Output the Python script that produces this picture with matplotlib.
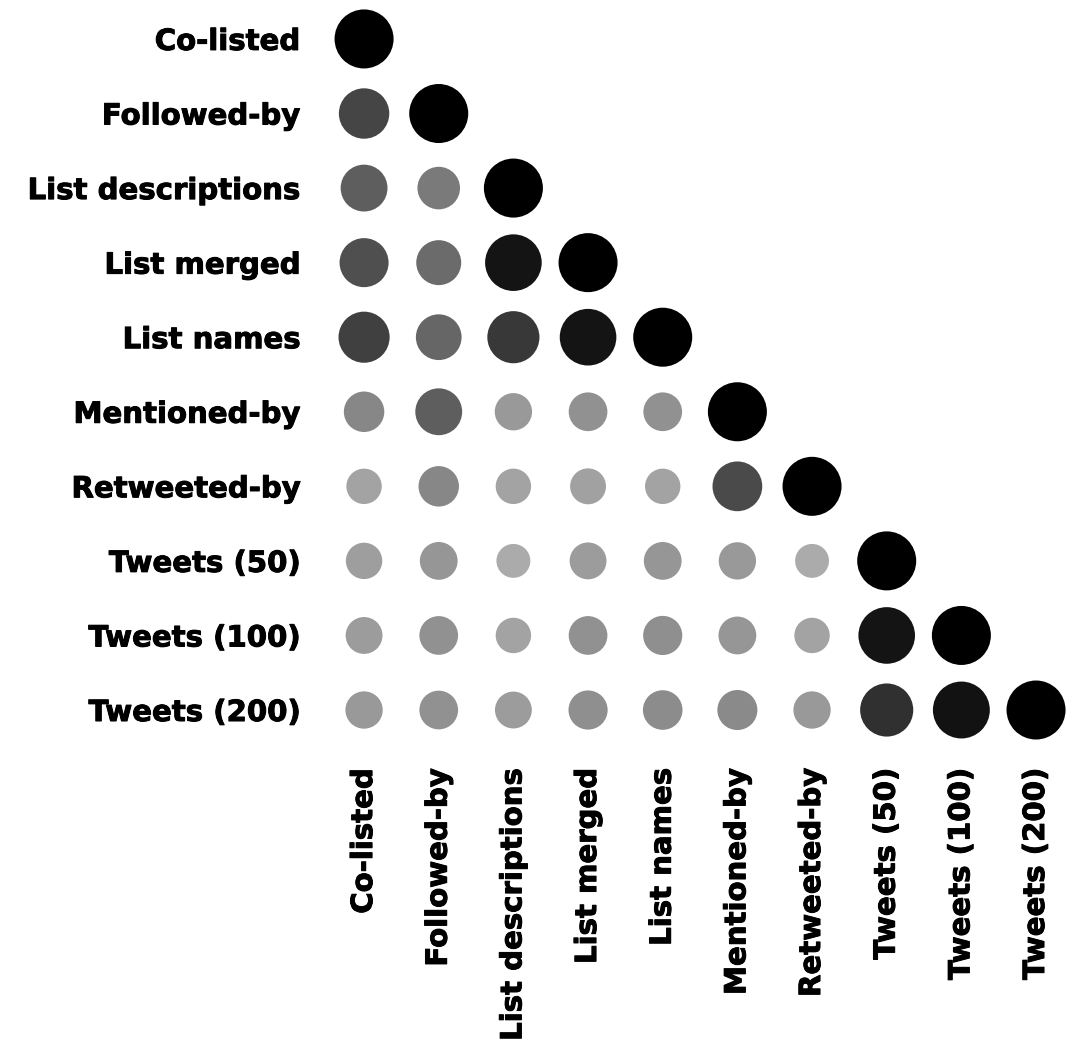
import matplotlib
matplotlib.use("Agg")
import matplotlib.pyplot as plt
import matplotlib.patheffects as pe

# feature sets compared
labels = ['Co-listed', 'Followed-by', 'List descriptions', 'List merged', 'List names',
          'Mentioned-by', 'Retweeted-by', 'Tweets (50)', 'Tweets (100)', 'Tweets (200)']

# lower triangle of similarity matrix (row i, columns 0..i-1), diagonal = 1
row_followed = [0.73]
row_descriptions = [0.63, 0.52]
row_merged = [0.69, 0.58, 0.92]
row_names = [0.75, 0.60, 0.78, 0.92]
row_mentioned = [0.47, 0.63, 0.40, 0.43, 0.43]
row_retweeted = [0.36, 0.47, 0.36, 0.37, 0.36, 0.71]
row_tweets50 = [0.38, 0.41, 0.33, 0.39, 0.41, 0.40, 0.33]
row_tweets100 = [0.39, 0.43, 0.36, 0.43, 0.44, 0.41, 0.36, 0.92]
row_tweets200 = [0.40, 0.43, 0.39, 0.44, 0.45, 0.46, 0.40, 0.81, 0.93]

rows = [[], row_followed, row_descriptions, row_merged, row_names, row_mentioned,
        row_retweeted, row_tweets50, row_tweets100, row_tweets200]

xs, ys, vals = [], [], []
for i, r in enumerate(rows):
    for j, v in enumerate(r + [1.0]):
        xs.append(j)
        ys.append(i)
        vals.append(v)

fig = plt.figure(figsize=(10.83, 10.44), dpi=100)
ax = fig.add_axes([0.3017, 0.2842, 0.6894, 0.7142])

# gray level and circle area both follow the value
colors = [str(1 - v) for v in vals]
sizes = [1806 * v for v in vals]
ax.scatter(xs, ys, s=sizes, c=colors, edgecolors='none')

ax.set_xlim(-0.5, 9.5)
ax.set_ylim(9.5, -0.5)
ax.set_xticks(range(10))
ax.set_yticks(range(10))
ax.set_xticklabels(labels, rotation=90, fontsize=21, fontweight='heavy')
ax.set_yticklabels(labels, fontsize=21, fontweight='heavy')
# slightly heavier strokes, closer to the original font
for t in ax.get_xticklabels() + ax.get_yticklabels():
    t.set_path_effects([pe.withStroke(linewidth=0.7, foreground='black')])
ax.tick_params(length=0)
ax.tick_params(axis='y', pad=19)
ax.tick_params(axis='x', pad=15)
for s in ax.spines.values():
    s.set_visible(False)

fig.savefig('out.png', dpi=100)
